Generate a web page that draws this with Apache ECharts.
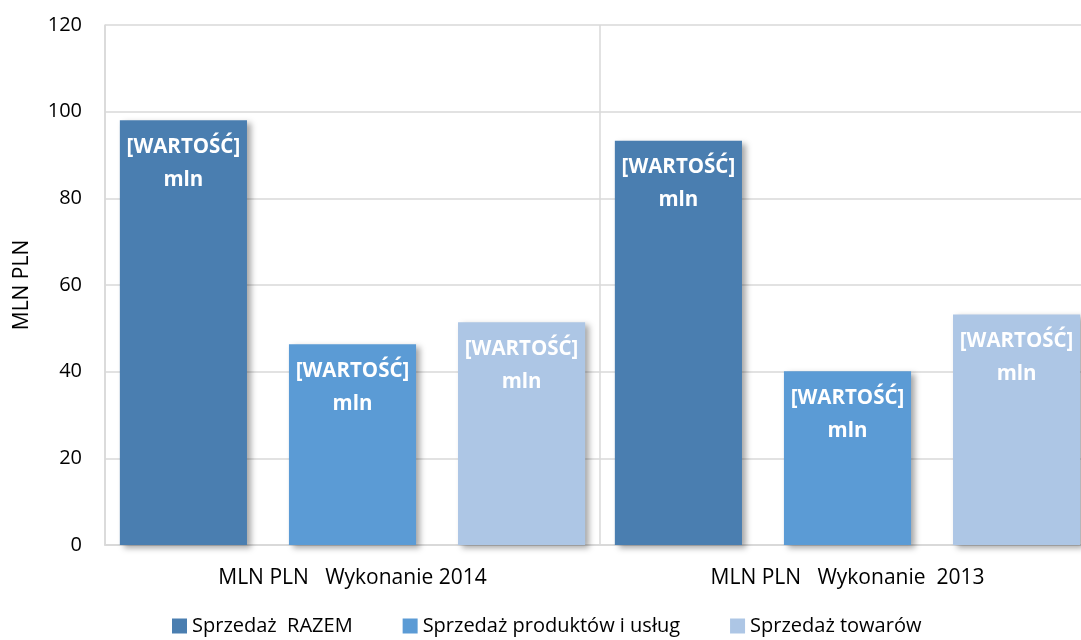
<!DOCTYPE html>
<html>
<head>
<meta charset="utf-8">
<script src="https://cdn.jsdelivr.net/npm/echarts@6/dist/echarts.min.js"></script>
<style>
  html, body { margin: 0; padding: 0; background: #fff; }
  #chart { width: 1081px; height: 640px; }
</style>
</head>
<body>
<div id="chart"></div>
<script>
// dane
const categories = ['MLN PLN   Wykonanie 2014', 'MLN PLN   Wykonanie  2013']
const seriesNames = ['Sprzedaż  RAZEM', 'Sprzedaż produktów i usług', 'Sprzedaż towarów']
const razem = [98, 93.3]
const produkty = [46.3, 40.1]
const towary = [51.4, 53.2]
const yTicks = [0, 20, 40, 60, 80, 100, 120]

const colors = ['#4a7eb0', '#5b9bd5', '#adc6e5']
const font = 'Open Sans'

const barLabel = {
  show: true,
  position: 'insideTop',
  distance: 10,
  formatter: '[WARTOŚĆ]\nmln',
  color: '#fff',
  fontFamily: font,
  fontWeight: 'bold',
  fontSize: 20.5,
  lineHeight: 33
}

function makeSeries(name, data, i) {
  return {
    name: name,
    type: 'bar',
    data: data,
    barGap: '33%',
    barCategoryGap: '6%',
    itemStyle: {
      color: colors[i],
      shadowColor: 'rgba(0,0,0,0.35)',
      shadowBlur: 6,
      shadowOffsetX: 4,
      shadowOffsetY: 3
    },
    label: barLabel
  }
}

const chart = echarts.init(document.getElementById('chart'))
chart.setOption({
  animation: false,
  textStyle: { fontFamily: font },
  // wykres w oryginale jest ucięty z prawej strony
  grid: { left: 105, top: 25, height: 520, width: 990, outerBoundsMode: 'none', containLabel: false },
  legend: {
    top: 616,
    left: 172,
    padding: 0,
    itemWidth: 15,
    itemHeight: 15,
    itemGap: 50,
    icon: 'rect',
    textStyle: { fontFamily: font, fontSize: 20, color: '#000' },
    data: seriesNames
  },
  xAxis: {
    type: 'category',
    data: categories,
    axisLine: { lineStyle: { color: '#d9d9d9', width: 2 } },
    axisTick: { show: false },
    splitLine: { show: true, lineStyle: { color: '#d9d9d9', width: 1.5 } },
    axisLabel: { fontFamily: font, fontSize: 21, color: '#000', margin: 23 }
  },
  yAxis: {
    type: 'value',
    min: yTicks[0],
    max: yTicks[yTicks.length - 1],
    interval: 20,
    name: 'MLN PLN',
    nameLocation: 'middle',
    nameGap: 72,
    nameTextStyle: { fontFamily: font, fontSize: 21, color: '#000' },
    axisLine: { show: true, lineStyle: { color: '#d9d9d9', width: 1.5 } },
    axisTick: { show: false },
    splitLine: { lineStyle: { color: '#d9d9d9', width: 1.5 } },
    axisLabel: { fontFamily: font, fontSize: 20, color: '#000', margin: 23 }
  },
  series: [
    makeSeries(seriesNames[0], razem, 0),
    makeSeries(seriesNames[1], produkty, 1),
    makeSeries(seriesNames[2], towary, 2)
  ]
})
</script>
</body>
</html>
